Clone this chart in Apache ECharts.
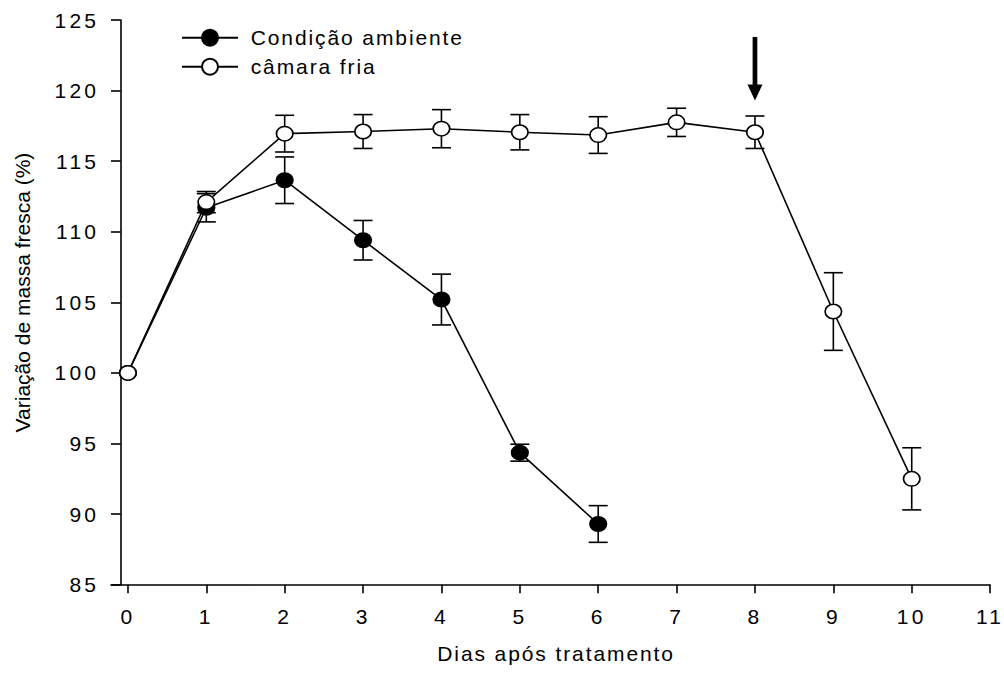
<!DOCTYPE html>
<html>
<head>
<meta charset="utf-8">
<title>Variação de massa fresca</title>
<script src="https://cdn.jsdelivr.net/npm/echarts@6/dist/echarts.min.js"></script>
<style>
  html, body { margin: 0; padding: 0; background: #fff; }
  #chart { width: 1004px; height: 673px; }
</style>
</head>
<body>
<div id="chart"></div>
<script>
// Days after treatment shown on the x axis
const dayTicks = [0, 1, 2, 3, 4, 5, 6, 7, 8, 9, 10, 11];
// Fresh-mass variation (%) – ambient condition
const ambienteDays = [0, 1, 2, 3, 4, 5, 6];
const ambienteMean = [100, 111.7, 113.65, 109.4, 105.2, 94.35, 89.3];
const ambienteErr  = [0, 1.0, 1.65, 1.4, 1.8, 0.6, 1.3];
// Fresh-mass variation (%) – cold chamber
const camaraDays = [0, 1, 2, 3, 4, 5, 6, 7, 8, 9, 10];
const camaraMean = [100, 112.1, 116.95, 117.1, 117.3, 117.05, 116.85, 117.75, 117.05, 104.35, 92.5];
const camaraErr  = [0, 0.75, 1.3, 1.2, 1.35, 1.25, 1.3, 1.0, 1.15, 2.75, 2.2];
// Arrow marking removal from the cold chamber: [day, tail value, tip value]
const arrowMark = [8, 123.8, 119.3];

const seriesNames = ['Condição ambiente', 'câmara fria'];

const FONT = "'Liberation Sans', Arial, sans-serif";
const INK = '#000';
const ELLIPSE = 'path://M0 7A8 7 0 1 1 16 7A8 7 0 1 1 0 7Z';

function errorRows(days, mean, err) {
  const rows = [];
  days.forEach((d, i) => {
    if (err[i] > 0) rows.push([d, mean[i] - err[i], mean[i] + err[i]]);
  });
  return rows;
}

function errorBarItem(params, api) {
  const x = api.value(0);
  const top = api.coord([x, api.value(2)]);
  const bot = api.coord([x, api.value(1)]);
  const half = 9.5;
  const st = { stroke: INK, lineWidth: 1.6, fill: null };
  return {
    type: 'group',
    children: [
      { type: 'line', shape: { x1: top[0], y1: top[1], x2: bot[0], y2: bot[1] }, style: st },
      { type: 'line', shape: { x1: top[0] - half, y1: top[1], x2: top[0] + half, y2: top[1] }, style: st },
      { type: 'line', shape: { x1: bot[0] - half, y1: bot[1], x2: bot[0] + half, y2: bot[1] }, style: st }
    ]
  };
}

function arrowItem(params, api) {
  const x = api.value(0);
  const tail = api.coord([x, api.value(1)]);
  const tip = api.coord([x, api.value(2)]);
  const headH = 16, headW = 7.5, shaftW = 2.35;
  return {
    type: 'group',
    children: [
      { type: 'rect', shape: { x: tail[0] - shaftW, y: tail[1], width: shaftW * 2, height: tip[1] - headH - tail[1] + 1 }, style: { fill: INK } },
      { type: 'polygon', shape: { points: [[tip[0] - headW, tip[1] - headH], [tip[0] + headW, tip[1] - headH], [tip[0], tip[1]]] }, style: { fill: INK } }
    ]
  };
}

const chart = echarts.init(document.getElementById('chart'), null, { renderer: 'svg' });

const option = {
  animation: false,
  backgroundColor: '#fff',
  textStyle: { fontFamily: FONT, color: INK },
  grid: { left: 111, right: 11, top: 20, bottom: 88.3, containLabel: false },
  legend: {
    orient: 'vertical',
    left: 181,
    top: 27.2,
    padding: 0,
    itemWidth: 56,
    itemHeight: 20,
    itemGap: 8,
    selectedMode: false,
    data: seriesNames,
    formatter: '{t|{name}}',
    textStyle: {
      color: INK, fontSize: 21, fontFamily: FONT,
      rich: { t: { color: INK, fontSize: 21, fontFamily: FONT, padding: [0, 0, 0, 7.7] } }
    }
  },
  xAxis: {
    type: 'value',
    min: -0.216,
    max: 11,
    splitLine: { show: false },
    axisLine: { show: true, onZero: false, lineStyle: { color: INK, width: 1.6 } },
    axisTick: { show: true, length: 8.5, customValues: dayTicks, lineStyle: { color: INK, width: 1.6 } },
    axisLabel: { customValues: dayTicks, margin: 21, color: INK, fontSize: 21, fontFamily: FONT },
    name: 'Dias após tratamento',
    nameLocation: 'middle',
    nameGap: 58.5,
    nameTextStyle: { color: INK, fontSize: 21, fontFamily: FONT, padding: [0, 0, 0, 11] }
  },
  yAxis: {
    type: 'value',
    min: 85,
    max: 125,
    interval: 5,
    offset: -9.7,
    splitLine: { show: false },
    axisLine: { show: true, onZero: false, lineStyle: { color: INK, width: 1.6 } },
    axisTick: { show: true, length: 9.7, lineStyle: { color: INK, width: 1.6 } },
    axisLabel: { margin: 21.5, color: INK, fontSize: 21, fontFamily: FONT },
    name: 'Variação de massa fresca (%)',
    nameLocation: 'middle',
    nameGap: 88.2,
    nameTextStyle: { color: INK, fontSize: 21, fontFamily: FONT, padding: [0, 0, 0, 19.6] }
  },
  series: [
    {
      type: 'custom',
      name: 'ambiente-erro',
      renderItem: errorBarItem,
      encode: { x: 0, y: [1, 2] },
      data: errorRows(ambienteDays, ambienteMean, ambienteErr),
      z: 1,
      silent: true
    },
    {
      type: 'custom',
      name: 'camara-erro',
      renderItem: errorBarItem,
      encode: { x: 0, y: [1, 2] },
      data: errorRows(camaraDays, camaraMean, camaraErr),
      z: 1,
      silent: true
    },
    {
      type: 'line',
      name: seriesNames[0],
      data: ambienteDays.map((d, i) => [d, ambienteMean[i]]),
      symbol: ELLIPSE,
      symbolSize: [16.5, 14.5],
      showAllSymbol: true,
      lineStyle: { color: INK, width: 1.6 },
      itemStyle: { color: INK, borderColor: INK, borderWidth: 1.6 },
      z: 2
    },
    {
      type: 'line',
      name: seriesNames[1],
      data: camaraDays.map((d, i) => [d, camaraMean[i]]),
      symbol: ELLIPSE,
      symbolSize: [16.5, 14.5],
      showAllSymbol: true,
      lineStyle: { color: INK, width: 1.6 },
      itemStyle: { color: '#fff', borderColor: INK, borderWidth: 1.6 },
      z: 3
    },
    {
      type: 'custom',
      name: 'seta',
      renderItem: arrowItem,
      encode: { x: 0, y: [1, 2] },
      data: [arrowMark],
      z: 4,
      silent: true
    }
  ]
};

chart.setOption(option);

// Widen horizontal text tracking; the rotated axis title keeps normal spacing.
function applyTracking() {
  chart.getDom().querySelectorAll('text').forEach(t => {
    let rotated = false;
    try {
      const m = t.transform.baseVal.consolidate();
      rotated = !!m && Math.abs(m.matrix.b) > 0.5;
    } catch (e) {}
    const s = (t.textContent || '').trim();
    t.style.letterSpacing = rotated ? '0px' : (/^\d+$/.test(s) ? '3.2px' : '1.9px');
  });
}
chart.on('finished', applyTracking);
setTimeout(applyTracking, 50);
</script>
</body>
</html>
